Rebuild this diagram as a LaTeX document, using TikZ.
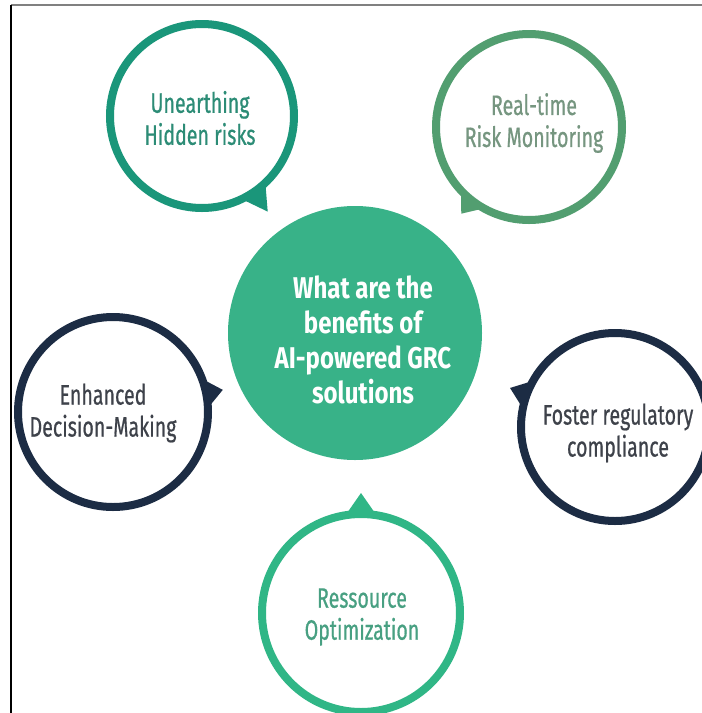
\documentclass[tikz,border=0pt]{standalone}
\usepackage{fontspec}
\setmainfont{Fira Sans}
\newfontfamily\condfont{Fira Sans}[FakeStretch=0.70, FakeBold=0.6]
\newfontfamily\hubfont{Fira Sans}[FakeStretch=0.80]
\usetikzlibrary{calc}

\definecolor{hubgreen}{RGB}{56,178,136}
\definecolor{tealring}{RGB}{26,150,122}
\definecolor{tealtext}{RGB}{44,140,118}
\definecolor{sagering}{RGB}{82,158,112}
\definecolor{sagetext}{RGB}{118,150,128}
\definecolor{navyring}{RGB}{28,44,68}
\definecolor{navytext}{RGB}{62,66,74}
\definecolor{mintring}{RGB}{48,182,134}
\definecolor{minttext}{RGB}{72,160,130}

\tikzset{
  bubble/.style={circle, draw, line width=8pt, fill=white, inner sep=0pt, outer sep=0pt},
  bubbletext/.style={font=\condfont\fontsize{28}{32}\selectfont, align=center, inner sep=0pt},
  hubtext/.style={font=\hubfont\bfseries\fontsize{30}{35}\selectfont, align=center, text=white, inner sep=0pt},
}

% speech-bubble tail: centre, path radius, direction, tip distance, colour
\newcommand{\bubbletail}[5]{%
  \fill[#5] ($(#1)+(#3-9:#2)$) -- ($(#1)+(#3:#4)$) -- ($(#1)+(#3+9:#2)$) -- cycle;}

\begin{document}
\begin{tikzpicture}[x=1pt, y=-1pt]
  \clip (0,0) rectangle (702,713);
  \fill[white] (0,0) rectangle (702,713);

  % frame edges
  \draw[line width=1.5pt, gray] (11,5) -- (702,5);
  \draw[line width=1.5pt, black] (11,5) -- (11,713);

  % central question
  \node[circle, fill=hubgreen, minimum size=254pt, inner sep=0pt] (hub) at (355,333) {};
  \node[hubtext] (hubt) at (363,340) {What are the\\benefits of\\AI-powered GRC\\solutions};

  % surrounding benefit bubbles
  \node[bubble, draw=tealring, minimum size=184pt] (ut) at (202,116) {};
  \bubbletail{ut}{92}{55.5}{116}{tealring}
  \node[bubbletext, text=tealtext] (utt) at (200,118) {Unearthing\\Hidden risks};

  \node[bubble, draw=sagering, minimum size=186pt] (rt) at (529,127) {};
  \bubbletail{rt}{93}{128}{110}{sagering}
  \node[bubbletext, text=sagetext] (rtt) at (534,123) {Real-time\\Risk Monitoring};

  \node[bubble, draw=navyring, minimum size=190pt] (ed) at (113,412) {};
  \bubbletail{ed}{95}{-11.4}{112}{navyring}
  \node[bubbletext, text=navytext] (edt) at (103,413) {Enhanced\\Decision-Making};

  \node[bubble, draw=navyring, minimum size=188pt] (fr) at (615,427) {};
  \bubbletail{fr}{94}{200.4}{112}{navyring}
  \node[bubbletext, text=navytext] (frt) at (618,433) {Foster regulatory\\compliance};

  \node[bubble, draw=mintring, minimum size=198pt] (ro) at (361,613) {};
  \bubbletail{ro}{99}{270}{120}{mintring}
  \node[bubbletext, text=minttext] (rot) at (362,617) {Ressource\\Optimization};
\end{tikzpicture}
\end{document}
